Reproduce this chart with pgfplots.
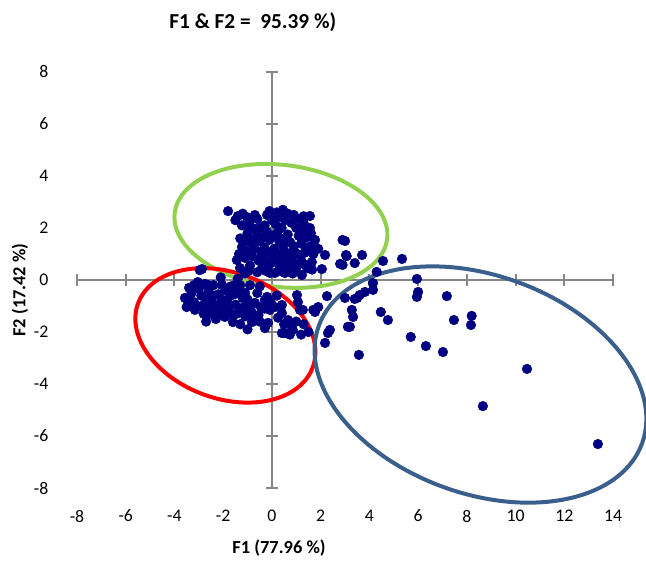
\documentclass[border=0pt]{standalone}
\usepackage{fontspec}
\setmainfont{Carlito}
\usepackage{pgfplots}
\pgfplotsset{compat=1.18}
\usepackage{xcolor}
\definecolor{axgrey}{HTML}{868686}
\definecolor{ptnavy}{HTML}{000080}
\definecolor{elgreen}{HTML}{92D050}
\definecolor{elred}{HTML}{FF0000}
\definecolor{elblue}{HTML}{3A5F8C}

\pgfplotstableread{
x y
-1.8 2.65
-1.4 2.46
-1.03 2.42
-1.23 2.1
-0.6 2.35
-0.2 2.5
0.2 2.6
0.0 2.3
0.53 2.3
0.3 2.45
1.07 2.35
1.56 2.46
0.8 2.2
1.56 2.0
1.3 1.9
1.0 2.0
0.4 2.0
-0.3 2.1
-0.8 2.0
-1.0 1.8
-0.6 1.75
-0.2 1.85
0.2 1.8
0.65 1.75
1.1 1.7
1.45 1.65
1.77 1.54
-1.23 1.27
-0.9 1.45
-0.5 1.5
-0.1 1.55
0.3 1.5
0.75 1.45
1.2 1.4
1.6 1.3
-1.0 1.1
-0.7 1.2
-0.3 1.25
0.1 1.2
0.5 1.15
0.9 1.15
1.35 1.05
1.7 1.0
2.18 0.96
-1.44 0.77
-1.1 0.85
-0.8 0.9
-0.4 0.95
0.0 0.9
0.4 0.85
0.8 0.8
1.2 0.75
1.64 0.69
-1.31 0.46
-0.9 0.55
-0.41 0.46
-0.1 0.6
0.3 0.55
0.7 0.5
1.0 0.45
2.05 0.42
-0.6 0.3
0.12 0.27
0.6 0.3
1.23 0.19
-1.1 0.25
-1.5 2.3
-1.2 2.55
0.9 2.5
-0.9 2.3
0.15 2.15
-0.5 2.0
1.3 2.2
-1.3 1.6
0.5 1.6
-0.3 0.7
1.45 0.45
-0.08 0.27
0.53 0.27
-1.35 1.0
-1.15 1.5
-0.95 2.1
-0.75 1.55
-0.45 1.1
-0.15 1.05
0.25 1.0
0.6 1.0
1.05 1.0
1.4 1.25
-0.55 0.75
0.15 0.75
0.55 0.65
0.95 0.6
1.35 0.6
-0.95 0.35
-0.25 0.35
0.35 0.35
0.85 0.25
1.65 0.4
-0.35 1.65
0.05 1.7
0.45 1.35
0.9 1.3
1.25 1.55
-0.7 2.5
0.65 2.55
1.3 2.45
-0.1 2.65
0.45 2.7
1.6 1.8
1.9 1.2
3.0 1.5
2.9 1.54
3.04 0.96
3.7 0.96
3.07 0.92
3.4 0.65
2.9 0.58
2.8 0.62
4.56 0.73
5.34 0.81
4.3 0.31
5.95 0.04
4.15 -0.12
4.15 -0.38
3.82 -0.46
3.6 -0.58
3.4 -0.73
6.0 -0.46
5.95 -0.65
7.18 -0.62
7.47 -1.54
8.2 -1.38
8.17 -1.73
7.02 -2.77
10.47 -3.42
8.66 -4.85
13.38 -6.31
3.33 -1.42
3.2 -1.8
4.47 -1.23
4.76 -1.54
5.7 -2.19
6.32 -2.54
3.57 -2.88
2.26 -0.62
3.5 -0.69
3.0 -0.69
1.9 -1.04
1.7 -1.15
2.3 -2.04
2.18 -2.42
2.38 -1.92
3.28 -1.15
3.12 -1.8
1.03 -0.58
1.07 -0.85
1.27 -1.15
1.77 -1.23
-2.96 0.38
-2.87 0.42
-3.04 -0.08
-2.63 -0.19
-2.05 -0.19
-1.52 -0.19
-3.57 -0.69
-3.5 -1.04
-3.3 -0.5
-3.2 -0.85
-3.16 -1.15
-2.9 -0.6
-2.9 -1.0
-2.8 -1.3
-2.63 -1.35
-2.6 -0.45
-2.5 -0.8
-2.4 -1.1
-2.2 -0.55
-2.2 -0.95
-2.1 -1.3
-1.93 -1.42
-1.9 -0.4
-1.85 -0.8
-1.8 -1.1
-1.6 -1.62
-1.55 -0.55
-1.5 -0.95
-1.45 -1.3
-1.2 -0.7
-1.15 -1.05
-1.1 -0.5
-1.1 -1.4
-0.82 -1.62
-0.9 -0.9
-0.85 -1.2
-0.7 -0.88
-0.6 -0.5
-0.55 -1.35
-0.29 -0.77
-0.29 -1.85
-0.3 -1.1
0.12 -1.04
0.41 -1.27
0.74 -1.62
0.41 -2.04
0.74 -2.1
0.2 -0.6
-0.2 -0.65
-0.08 -1.15
-0.16 -1.65
0.41 -0.96
0.66 -1.54
0.82 -1.92
0.53 -2.04
0.86 -1.92
1.15 -1.15
-1.7 -0.25
-2.4 -0.2
-3.4 -0.3
-1.3 -0.2
-0.9 -0.2
-2.7 -1.6
-2.3 -1.5
-1.3 -1.7
-1.0 -1.9
-0.5 -1.6
-3.2 -0.2
-2.75 -0.15
-3.45 -0.8
-3.0 -0.35
-2.7 -0.8
-2.4 -0.6
-2.05 -0.75
-1.7 -0.6
-1.35 -0.5
-2.6 -1.05
-2.3 -1.3
-1.95 -1.1
-1.65 -1.3
-1.3 -1.1
-1.0 -0.75
-0.75 -1.45
-0.45 -1.05
-0.05 -0.85
0.25 -1.45
0.5 -1.7
1.0 -1.6
1.3 -1.7
1.5 -2.0
1.2 -2.1
-2.1 0.1
-1.4 0.05
-0.5 -0.25
}\obs

\begin{document}
\begin{tikzpicture}
\begin{axis}[
  scale only axis, width=402pt, height=312pt,
  xmin=-8, xmax=14, ymin=-8, ymax=8,
  axis line style={draw=none}, major tick length=0pt,
  xtick={-8,-6,...,14},
  xticklabels={-8,-6,-4,-2,0,2,4,6,8,10,12,14},
  ytick={-8,-6,...,8},
  yticklabels={-8,-6,-4,-2,0,2,4,6,8},
  tick label style={font=\fontsize{13.3}{16}\selectfont, text=black},
  xticklabel style={anchor=center, yshift=-21pt},
  yticklabel style={anchor=east, xshift=-18pt},
  clip=false]
\coordinate (O) at (rel axis cs:0,0);
\draw[axgrey, line width=1.5pt] (axis cs:-8,0) -- (axis cs:14,0);
\draw[axgrey, line width=1.5pt] (axis cs:0,-8) -- (axis cs:0,8);
\pgfplotsinvokeforeach{-8,-6,...,14}{
  \draw[axgrey, line width=1.5pt] ([yshift=-4.5pt]axis cs:#1,0) -- ([yshift=4.5pt]axis cs:#1,0);}
\pgfplotsinvokeforeach{-8,-6,...,8}{
  \draw[axgrey, line width=1.5pt] ([xshift=-4.5pt]axis cs:0,#1) -- ([xshift=4.5pt]axis cs:0,#1);}
\addplot[only marks, mark=*, mark size=3.6pt, color=ptnavy] table {\obs};
\draw[overlay, elgreen, line width=3pt] (axis cs:0.37,2.08) circle [x radius=80.25pt, y radius=45.75pt, rotate=-7];
\draw[overlay, elred, line width=3pt] (axis cs:-1.91,-2.13) circle [x radius=69.75pt, y radius=47.25pt, rotate=-20];
\draw[overlay, elblue, line width=3pt] (axis cs:8.56,-4.02) circle [x radius=129pt, y radius=81.75pt, rotate=-20];
\node[font=\bfseries\fontsize{16}{19}\selectfont] at ([yshift=37.5pt]rel axis cs:0.328,1) {F1 \& F2 =~ 95.39 \%)};
\node[font=\bfseries\fontsize{13.8}{16}\selectfont] at ([yshift=-45pt]rel axis cs:0.377,0) {F1 (77.96 \%)};
\node[font=\bfseries\fontsize{13.8}{16}\selectfont, rotate=90] at ([xshift=-42.75pt]rel axis cs:0,0.476) {F2 (17.42 \%)};
\end{axis}
\path (O) ++(-57.75pt,-55.5pt) rectangle ++(484.5pt,421.5pt);
\end{tikzpicture}
\end{document}
